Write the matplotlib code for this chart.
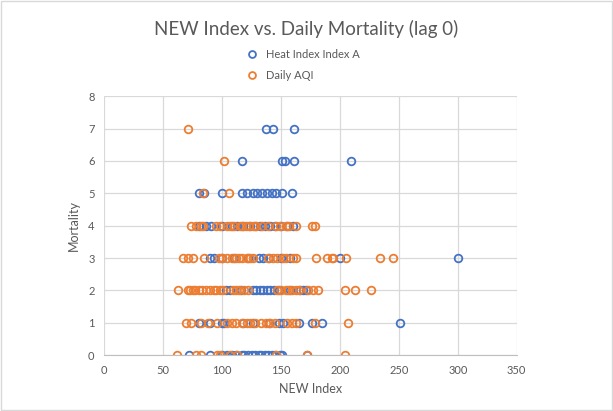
import matplotlib
matplotlib.use("Agg")
from matplotlib import pyplot as plt

plt.rcParams["font.family"] = ["Lato", "DejaVu Sans"]

# Heat Index Index A, grouped by daily mortality count
heat_by_mortality = {
    0: [72, 90, 100, 104, 108, 112, 117, 119, 122, 125, 128, 131, 133, 136,
        139, 142, 145, 149, 151, 172],
    1: [80, 90, 100, 102, 118, 126, 140, 148, 152, 165, 176, 185, 251],
    2: [103, 107, 116, 126, 129, 132, 135, 138, 141, 144, 148, 158, 166, 169,
        171],
    3: [90, 93, 100, 110, 122, 131, 135, 140, 150, 158, 200, 300],
    4: [80, 86, 91, 100, 108, 113, 118, 124, 128, 132, 136, 141, 145, 150,
        155, 160],
    5: [80, 85, 100, 117, 121, 126, 130, 134, 138, 142, 146, 151, 159],
    6: [117, 151, 153, 161, 209],
    7: [137, 143, 161],
}

# Daily AQI, grouped by daily mortality count
aqi_by_mortality = {
    0: [62, 78, 82, 96, 98, 107, 113, 146, 172, 204],
    1: [69, 74, 82, 88, 96, 104, 108, 112, 117, 121, 124, 128, 133, 137, 141,
        145, 155, 159, 163, 179, 207],
    2: [63, 71, 73, 75, 77, 80, 83, 86, 90, 93, 95, 98, 101, 109, 112, 114,
        119, 122, 147, 150, 154, 156, 159, 163, 165, 173, 177, 181, 204, 213,
        226],
    3: [67, 71, 75, 85, 97, 100, 104, 108, 112, 114, 117, 121, 124, 126, 139,
        143, 147, 152, 154, 160, 163, 180, 189, 193, 194, 205, 234, 245],
    4: [74, 78, 82, 84, 95, 98, 104, 107, 110, 115, 117, 120, 123, 126, 129,
        134, 139, 146, 149, 154, 157, 163, 176, 179],
    5: [84, 106],
    6: [102],
    7: [71],
}


def flatten(groups):
    xs, ys = [], []
    for mort, vals in groups.items():
        xs += vals
        ys += [mort] * len(vals)
    return xs, ys


heat_x, heat_y = flatten(heat_by_mortality)
aqi_x, aqi_y = flatten(aqi_by_mortality)

blue = "#4472C4"
orange = "#ED7D31"
grey = "#595959"

fig = plt.figure(figsize=(6.13, 4.11), dpi=100)
ax = fig.add_axes([0.170, 0.136, 0.673, 0.630])

ax.plot(heat_x, heat_y, "o", mfc="none", mec=blue, mew=1.3, ms=5.5,
        label="Heat Index Index A")
ax.plot(aqi_x, aqi_y, "o", mfc="none", mec=orange, mew=1.3, ms=5.5,
        label="Daily AQI")

ax.set_xlim(0, 350)
ax.set_ylim(0, 8)
ax.set_xticks(range(0, 351, 50))
ax.set_yticks(range(0, 9))
ax.grid(True, color="#D9D9D9", linewidth=0.9)
ax.set_axisbelow(True)
for side in ["top", "right", "left"]:
    ax.spines[side].set_visible(False)
ax.spines["bottom"].set_color("#BFBFBF")
ax.tick_params(length=0, labelsize=8, labelcolor=grey, pad=7)

ax.set_xlabel("NEW Index", fontsize=9, color=grey, labelpad=5)
ax.set_ylabel("Mortality", fontsize=9, color=grey, labelpad=6)

fig.suptitle("NEW Index vs. Daily Mortality (lag 0)", fontsize=13.5,
             color=grey, y=0.952)
fig.legend(loc="upper center", bbox_to_anchor=(0.49, 0.905), ncol=1,
           frameon=False, fontsize=8, labelcolor=grey, handletextpad=0.2,
           labelspacing=0.9, markerscale=0.9)

# light chart border
fig.patches.append(plt.Rectangle((0.002, 0.002), 0.996, 0.996,
                                 transform=fig.transFigure, fill=False,
                                 edgecolor="#D9D9D9", linewidth=1))

fig.savefig("out.png", dpi=100)
